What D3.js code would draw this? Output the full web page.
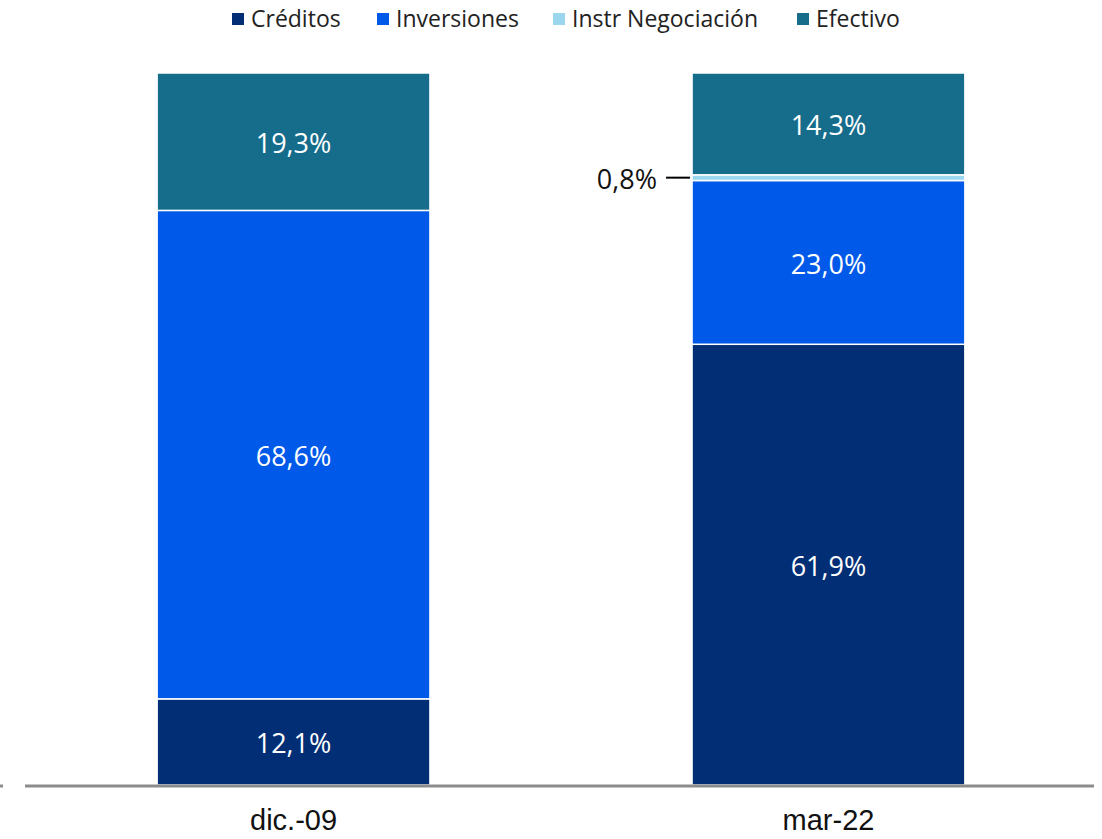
<!DOCTYPE html>
<html>
<head>
<meta charset="utf-8">
<script src="https://cdn.jsdelivr.net/npm/d3@7"></script>
<style>
  body { margin: 0; background: #fff; }
  svg { display: block; }
</style>
</head>
<body>
<div id="chart"></div>
<script>
'use strict';

var periods = ['dic.-09', 'mar-22'];
var seriesNames = ['Créditos', 'Inversiones', 'Instr Negociación', 'Efectivo'];
var creditos = [12.1, 61.9];
var inversiones = [68.6, 23.0];
var instrNegociacion = [0.0, 0.8];
var efectivo = [19.3, 14.3];
var colors = ['#022e75', '#0059e8', '#9ad7ef', '#156c8b'];

var width = 1102, height = 839;

var svg = d3.select('#chart').append('svg')
  .attr('width', width)
  .attr('height', height);

var x = d3.scaleBand()
  .domain(periods)
  .range([25, 1097])
  .paddingInner(0.49)
  .paddingOuter(0.247);

var y = d3.scaleLinear()
  .domain([0, 100])
  .range([785, 73]);

var rows = periods.map(function(p, i) {
  return {
    period: p,
    'Créditos': creditos[i],
    'Inversiones': inversiones[i],
    'Instr Negociación': instrNegociacion[i],
    'Efectivo': efectivo[i]
  };
});

var stacked = d3.stack().keys(seriesNames)(rows);

var layer = svg.selectAll('.layer')
  .data(stacked)
  .enter().append('g')
  .attr('class', 'layer')
  .attr('fill', function(d, i) { return colors[i]; });

layer.selectAll('rect')
  .data(function(d) { return d; })
  .enter().append('rect')
  .attr('x', function(d) { return x(d.data.period); })
  .attr('y', function(d) { return y(d[1]); })
  .attr('width', x.bandwidth())
  .attr('height', function(d) { return y(d[0]) - y(d[1]); })
  .attr('stroke', '#fff')
  .attr('stroke-width', 1.5);

// labels inside the segments (skip the tiny one)
layer.each(function(s, si) {
  d3.select(this).selectAll('text')
    .data(s.filter(function(d) { return d[1] - d[0] > 5; }))
    .enter().append('text')
    .attr('x', function(d) { return x(d.data.period) + x.bandwidth() / 2; })
    .attr('y', function(d) { return (y(d[0]) + y(d[1])) / 2 + 2; })
    .attr('dy', '0.35em')
    .attr('text-anchor', 'middle')
    .attr('fill', '#fff')
    .style('font-family', '"Open Sans", "Noto Sans", sans-serif')
    .style('font-size', '27px')
    .text(function(d) { return (d[1] - d[0]).toFixed(1).replace('.', ',') + '%'; });
});

// callout for the small segment
var small = stacked[2][1];
var smallY = (y(small[0]) + y(small[1])) / 2;
svg.append('line')
  .attr('x1', x(periods[1]) - 26)
  .attr('x2', x(periods[1]) - 2)
  .attr('y1', smallY)
  .attr('y2', smallY)
  .attr('stroke', '#000')
  .attr('stroke-width', 2);
svg.append('text')
  .attr('x', x(periods[1]) - 35)
  .attr('y', smallY + 2)
  .attr('dy', '0.35em')
  .attr('text-anchor', 'end')
  .attr('fill', '#111')
  .style('font-family', '"Open Sans", "Noto Sans", sans-serif')
  .style('font-size', '27px')
  .text(instrNegociacion[1].toFixed(1).replace('.', ',') + '%');

// baseline axis
var xAxis = svg.append('g')
  .attr('transform', 'translate(0,' + (y(0) + 1) + ')')
  .call(d3.axisBottom(x).tickSize(0).tickPadding(23));
xAxis.select('.domain')
  .attr('d', 'M25,0H1094')
  .attr('stroke', '#8c8c8c')
  .attr('stroke-width', 3);
xAxis.selectAll('text')
  .attr('fill', '#111')
  .style('font-family', '"Liberation Sans", Arial, sans-serif')
  .style('font-size', '29px');
svg.append('line')
  .attr('x1', 0).attr('x2', 3)
  .attr('y1', y(0) + 1).attr('y2', y(0) + 1)
  .attr('stroke', '#8c8c8c')
  .attr('stroke-width', 3);

// legend
var legendX = [232, 377, 553, 797];
var legend = svg.append('g').attr('class', 'legend');
var item = legend.selectAll('g')
  .data(seriesNames)
  .enter().append('g')
  .attr('transform', function(d, i) { return 'translate(' + legendX[i] + ',19)'; });
item.append('rect')
  .attr('x', 0).attr('y', -6)
  .attr('width', 12).attr('height', 12)
  .attr('fill', function(d, i) { return colors[i]; });
item.append('text')
  .attr('x', 19)
  .attr('dy', '0.35em')
  .attr('fill', '#222')
  .style('font-family', '"Open Sans", "Noto Sans", sans-serif')
  .style('font-size', '23px')
  .text(function(d) { return d; });
</script>
</body>
</html>
